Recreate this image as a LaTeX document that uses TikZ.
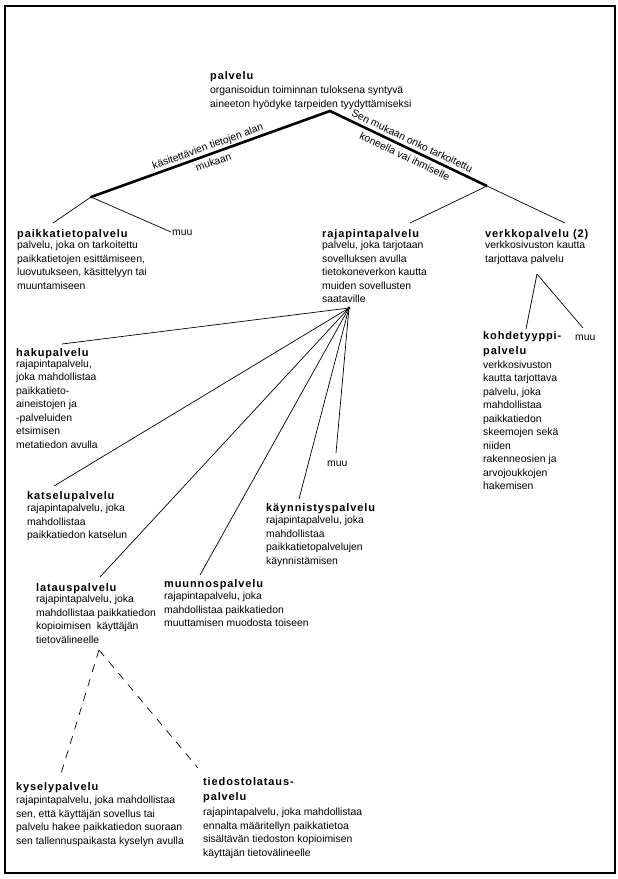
\documentclass[tikz,border=0pt]{standalone}
\usepackage{fontspec}
\setmainfont{Liberation Sans}
\newfontfamily\tfont[LetterSpace=8]{Liberation Sans}
\begin{document}
\begin{tikzpicture}[x=1pt,y=-1pt,
  ttl/.style={anchor=north west, yshift=9.5pt, inner sep=0pt, align=left, execute at begin node={\rule{0pt}{9.5pt}}, font=\tfont\bfseries\fontsize{11}{15}\selectfont},
  dsc/.style={anchor=north west, yshift=8.6pt, inner sep=0pt, align=left, execute at begin node={\rule{0pt}{8.6pt}}, font=\fontsize{10.4}{13.5}\selectfont},
  lbl/.style={inner sep=0pt, align=center, font=\fontsize{10.4}{17}\selectfont},
  fine/.style={line width=0.7pt},
  heavy/.style={line width=2.6pt},
  dsh/.style={line width=0.7pt, dash pattern=on 8pt off 7pt}]
\useasboundingbox (0,0) rectangle (618,879);
\draw[line width=1.3pt] (5,6) rectangle (615,873);

% junctions
\coordinate (top) at (330,111);
\coordinate (L) at (91,197);
\coordinate (R) at (487,186);
\coordinate (F) at (349,308);
\coordinate (V) at (537,274);
\coordinate (D) at (99,650);
% connector ends
\coordinate (L1) at (53,223);
\coordinate (L2) at (171,232);
\coordinate (R1) at (410,223);
\coordinate (R2) at (565,223);
\coordinate (V1) at (526,329);
\coordinate (V2) at (583,328);
\coordinate (F1) at (62,344);
\coordinate (F2) at (54,486);
\coordinate (F3) at (100,577);
\coordinate (F4) at (200,575);
\coordinate (F5) at (299,499);
\coordinate (F6) at (336,453);
\coordinate (D1) at (60,777);
\coordinate (D2) at (198,768);

% nodes
\node[ttl] (palvelu) at (210,79) {palvelu};
\node[dsc] (palveluD) at (210,94.5) {organisoidun toiminnan tuloksena syntyvä\\aineeton hyödyke tarpeiden tyydyttämiseksi};

\node[ttl] (paikka) at (17,237) {paikkatietopalvelu};
\node[dsc] (paikkaD) at (17,249.5) {palvelu, joka on tarkoitettu\\paikkatietojen esittämiseen,\\luovutukseen, käsittelyyn tai\\muuntamiseen};
\node[dsc] (muu1) at (172,235.5) {muu};

\node[ttl] (raja) at (322,237) {rajapintapalvelu};
\node[dsc] (rajaD) at (322,249.5) {palvelu, joka tarjotaan\\sovelluksen avulla\\tietokoneverkon kautta\\muiden sovellusten\\saataville};

\node[ttl] (verkko) at (485,237) {verkkopalvelu (2)};
\node[dsc] (verkkoD) at (485,249.5) {verkkosivuston kautta\\tarjottava palvelu};

\node[ttl] (kohde) at (483,341) {kohdetyyppi-\\palvelu};
\node[dsc] (kohdeD) at (483,369) {verkkosivuston\\kautta tarjottava\\palvelu, joka\\mahdollistaa\\paikkatiedon\\skeemojen sekä\\niiden\\rakenneosien ja\\arvojoukkojen\\hakemisen};
\node[dsc] (muu3) at (575,340.5) {muu};

\node[ttl] (haku) at (16,356) {hakupalvelu};
\node[dsc] (hakuD) at (16,368) {rajapintapalvelu,\\joka mahdollistaa\\paikkatieto-\\aineistojen ja\\-palveluiden\\etsimisen\\metatiedon avulla};

\node[ttl] (katselu) at (27,499) {katselupalvelu};
\node[dsc] (katseluD) at (27,512.5) {rajapintapalvelu, joka\\mahdollistaa\\paikkatiedon katselun};

\node[dsc] (muu2) at (327,466.5) {muu};

\node[ttl] (kaynn) at (266,511) {käynnistyspalvelu};
\node[dsc] (kaynnD) at (266,524.5) {rajapintapalvelu, joka\\mahdollistaa\\paikkatietopalvelujen\\käynnistämisen};

\node[ttl] (lataus) at (36,591) {latauspalvelu};
\node[dsc] (latausD) at (36,603.5) {rajapintapalvelu, joka\\mahdollistaa paikkatiedon\\kopioimisen\ \ käyttäjän\\tietovälineelle};

\node[ttl] (muunnos) at (164,587) {muunnospalvelu};
\node[dsc] (muunnosD) at (164,600.5) {rajapintapalvelu, joka\\mahdollistaa paikkatiedon\\muuttamisen muodosta toiseen};

\node[ttl] (kysely) at (16,790) {kyselypalvelu};
\node[dsc] (kyselyD) at (16,804.5) {rajapintapalvelu, joka mahdollistaa\\sen, että käyttäjän sovellus tai\\palvelu hakee paikkatiedon suoraan\\sen tallennuspaikasta kyselyn avulla};

\node[ttl] (tiedosto) at (203,787) {tiedostolataus-\\palvelu};
\node[dsc] (tiedostoD) at (203,816.5) {rajapintapalvelu, joka mahdollistaa\\ennalta määritellyn paikkatietoa\\sisältävän tiedoston kopioimisen\\käyttäjän tietovälineelle};

% connectors
\draw[heavy] (L) -- node[lbl, sloped] (lblL) {käsitettävien tietojen alan\\mukaan} (top)
  -- node[lbl, sloped] (lblR) {Sen mukaan onko tarkoitettu\\koneella vai ihmiselle} (R);
\draw[fine] (L) -- (L1);
\draw[fine] (L) -- (L2);
\draw[fine] (R) -- (R1);
\draw[fine] (R) -- (R2);
\draw[fine] (V) -- (V1);
\draw[fine] (V) -- (V2);
\foreach \e in {F1,F2,F3,F4,F5,F6} \draw[fine] (F) -- (\e);
\fill (F) circle (1.6pt);
\fill (L) circle (1.4pt);
\draw[dsh] (D) -- (D1);
\draw[dsh] (D) -- (D2);
\end{tikzpicture}
\end{document}
